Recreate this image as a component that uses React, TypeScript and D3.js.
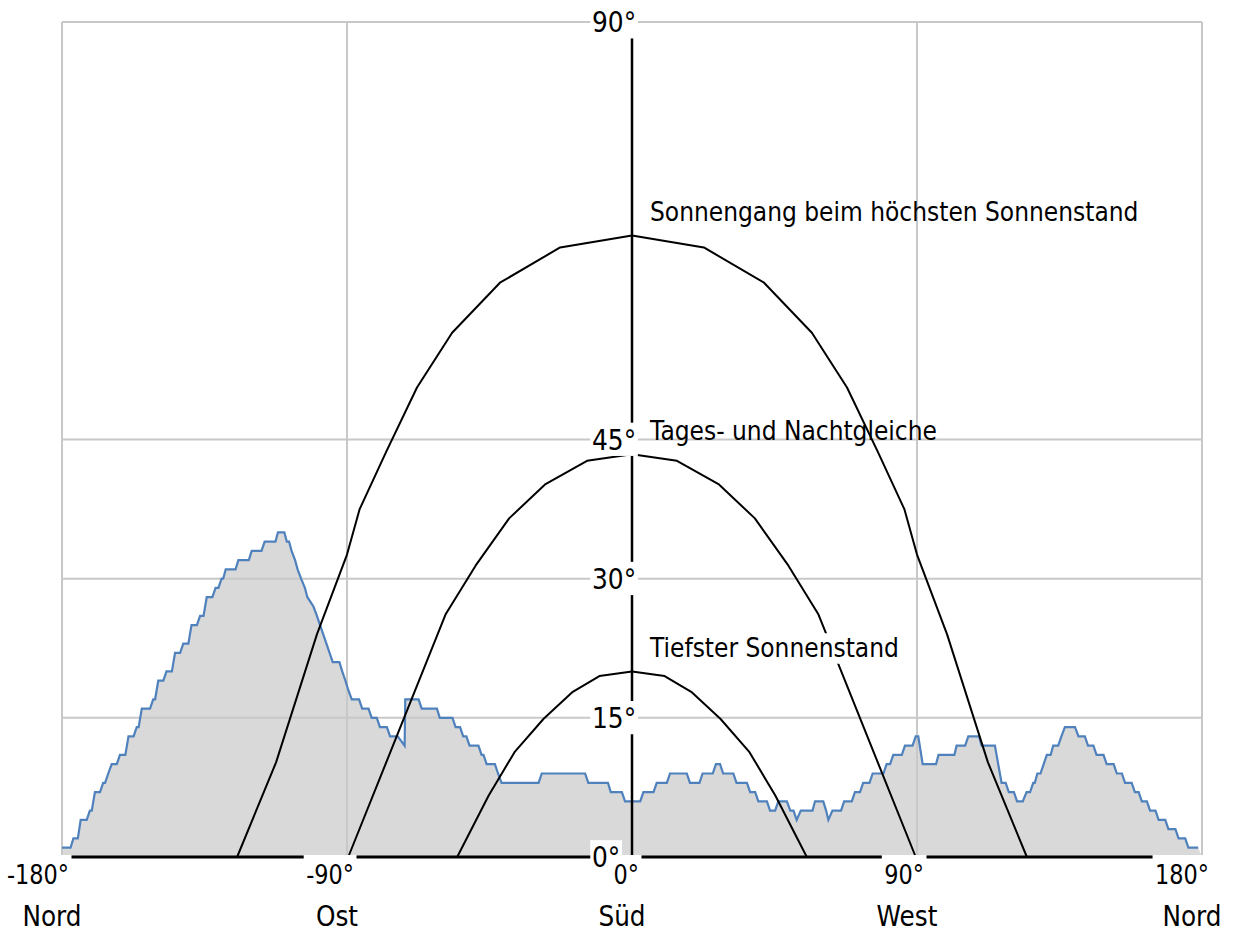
import { useEffect, useRef } from "react";
import * as d3 from "d3";

type Pt = [number, number];

// Horizont-Profil: [Azimut °, Höhe °]
const horizon: Pt[] = [
  [-180, 1], [-177.3, 1], [-176.4, 2], [-175, 2], [-174.1, 4], [-172.2, 4],
  [-171.2, 5], [-170.6, 5], [-169.6, 7], [-168, 7], [-167, 8], [-166.4, 8],
  [-165.4, 9], [-164.3, 10], [-162.7, 10], [-161.7, 11], [-160, 11],
  [-159, 13], [-157.4, 13], [-156.4, 14], [-155.8, 14], [-154.8, 16], [-152.2, 16],
  [-151.2, 17], [-150.6, 17], [-149.6, 19], [-148, 19], [-147, 20], [-145.3, 20],
  [-144.3, 22], [-142.7, 22], [-141.7, 23], [-140.1, 23], [-139.1, 25], [-137.4, 25],
  [-136.4, 26], [-135.3, 26], [-134.3, 28], [-132.5, 28], [-131.5, 29], [-130.6, 29],
  [-129.6, 30], [-129.1, 30], [-128.3, 31], [-125.2, 31], [-124.3, 32], [-121, 32],
  [-120.1, 33], [-117, 33], [-116, 34], [-112.6, 34], [-111.8, 35], [-109.8, 35],
  [-109, 34], [-108.3, 34], [-107.5, 33], [-106.4, 32], [-105.6, 31], [-104.5, 30],
  [-103.3, 29], [-102.5, 28], [-100.6, 27], [-99.5, 26], [-98.5, 25], [-97.5, 24],
  [-96.5, 23], [-95.5, 22], [-94.5, 21], [-92.4, 21], [-91.5, 20], [-90.5, 19],
  [-89.6, 18], [-88.5, 17], [-86.2, 17], [-85.2, 16], [-83.2, 16], [-82.2, 15],
  [-80.6, 15], [-79.6, 14], [-77.4, 14], [-76.4, 13], [-74, 13], [-71.8, 12],
  [-71.6, 17], [-67.4, 17], [-66.4, 16], [-61.6, 16], [-60.7, 15], [-56.7, 15],
  [-55.7, 14], [-54.3, 14], [-53.3, 13], [-52.3, 13], [-51.3, 12], [-48.5, 12],
  [-47.5, 11], [-46.9, 11], [-45.9, 10], [-43.3, 10], [-42.3, 9], [-41.2, 8],
  [-29.5, 8], [-28.5, 9], [-14.8, 9], [-13.8, 8], [-7.6, 8], [-6.7, 7],
  [-3.2, 7], [-2.2, 6], [2.6, 6], [3.6, 7], [6.8, 7], [7.8, 8], [11, 8],
  [12, 9], [17.3, 9], [18.3, 8], [21.3, 8], [22.3, 9], [25.5, 9], [26.5, 10],
  [27.8, 10], [28.8, 9], [32, 9], [33, 8], [36.3, 8], [37.3, 7], [38.9, 7],
  [39.9, 6], [42.6, 6], [43.6, 5], [45.2, 5], [46.2, 6], [48.9, 6], [50, 5],
  [51, 5], [52, 4], [53.3, 5], [57, 5], [57.8, 6], [60.4, 6], [61.3, 5],
  [62, 4], [63.3, 5], [66, 5], [67, 6], [69.4, 6], [70.4, 7], [72, 7],
  [73, 8], [75, 8], [76, 9], [79.4, 9], [80.4, 10], [81.5, 10], [82.5, 11],
  [85.2, 11], [86.2, 12], [88.6, 12], [89.6, 13], [90.4, 13], [91.8, 10],
  [96, 10], [96.8, 11], [101.8, 11], [102.5, 12], [105.2, 12], [106.2, 13],
  [109.6, 13], [110.4, 12], [114.6, 12], [116.7, 8], [118, 8], [119, 7],
  [120.6, 7], [121.6, 6], [123.4, 6], [124.6, 7], [125.7, 7], [126.7, 8],
  [127.2, 8], [128, 9], [129, 9], [130, 10], [131, 11], [132.2, 11], [133, 12],
  [134.6, 12], [135.6, 13], [136.7, 14], [139.9, 14], [141, 13], [143, 13],
  [144, 12], [145.7, 12], [146.7, 11], [148.9, 11], [149.9, 10], [152.1, 10],
  [153.1, 9], [154.7, 9], [155.7, 8], [157.8, 8], [158.8, 7], [160, 7],
  [161, 6], [162.6, 6], [163.6, 5], [165.3, 5], [166.3, 4], [168.4, 4],
  [169.4, 3], [171.6, 3], [172.6, 2], [174.7, 2], [175.7, 1], [178.8, 1],
];

// Sonnenbahnen: [Azimut °, Höhe °]
const summerPath: Pt[] = [
  [-124.7, 0], [-112.4, 10.2], [-99.5, 24.0], [-90, 32.6], [-86, 37.5],
  [-77.6, 43.7], [-67.9, 50.6], [-56.8, 56.5], [-41.7, 61.9], [-22.7, 65.7],
  [0, 67.0], [22.7, 65.7], [41.7, 61.9], [56.8, 56.5], [67.9, 50.6],
  [77.6, 43.7], [86, 37.5], [90, 32.6], [99.5, 24.0], [112.4, 10.2], [124.7, 0],
];
const equinoxPath: Pt[] = [
  [-89.6, 0], [-58.8, 26.2], [-49.4, 31.4], [-38.8, 36.5], [-27.3, 40.2],
  [-14.2, 42.7], [0, 43.4], [14.2, 42.7], [27.3, 40.2], [38.8, 36.5],
  [49.4, 31.4], [58.8, 26.2], [89.6, 0],
];
const winterPath: Pt[] = [
  [-55.2, 0], [-45.3, 6.6], [-37.1, 11.3], [-27.9, 14.9], [-18.7, 17.8],
  [-10.3, 19.5], [0, 20.0], [10.3, 19.5], [18.7, 17.8], [27.9, 14.9],
  [37.1, 11.3], [45.3, 6.6], [55.2, 0],
];

const pathLabels = [
  "Sonnengang beim höchsten Sonnenstand",
  "Tages- und Nachtgleiche",
  "Tiefster Sonnenstand",
];
const pathPeaks = [67.0, 43.4, 20.0];

const xTicks = [-180, -90, 0, 90, 180];
const xTickLabels = ["-180°", "-90°", "0°", "90°", "180°"];
const directionLabels = ["Nord", "Ost", "Süd", "West", "Nord"];
const yTicks = [0, 15, 30, 45, 90];

const W = 1234;
const H = 932;
const FONT = "'DejaVu Sans', Verdana, sans-serif";

type G = d3.Selection<SVGGElement, unknown, null, undefined>;

export default function App() {
  const svgRef = useRef<SVGSVGElement>(null);

  useEffect(() => {
    if (!svgRef.current) return;
    const svg = d3.select(svgRef.current);
    svg.selectAll("*").remove();

    const x = d3.scaleLinear().domain([-180, 180]).range([62, 1202]);
    const y = d3.scaleLinear().domain([0, 90]).range([857, 22]);

    // Horizont-Fläche
    const area = d3
      .area<Pt>()
      .x((d) => x(d[0]))
      .y0(y(0))
      .y1((d) => y(d[1]));
    svg
      .append("path")
      .datum([...horizon, [180, 0] as Pt])
      .attr("d", area)
      .attr("fill", "#d9d9d9");

    // Gitter
    const grid = svg.append("g").attr("stroke", "#c8c8c8").attr("stroke-width", 2);
    yTicks.forEach((t) => {
      grid.append("line").attr("x1", x(-180)).attr("x2", x(180)).attr("y1", y(t)).attr("y2", y(t));
    });
    xTicks.forEach((t) => {
      grid.append("line").attr("x1", x(t)).attr("x2", x(t)).attr("y1", y(90)).attr("y2", y(0));
    });

    const line = d3
      .line<Pt>()
      .x((d) => x(d[0]))
      .y((d) => y(d[1]));

    svg
      .append("path")
      .datum(horizon)
      .attr("d", line)
      .attr("fill", "none")
      .attr("stroke", "#4f81bd")
      .attr("stroke-width", 2.2);

    [summerPath, equinoxPath, winterPath].forEach((p) => {
      svg
        .append("path")
        .datum(p)
        .attr("d", line)
        .attr("fill", "none")
        .attr("stroke", "#000")
        .attr("stroke-width", 2)
        .attr("stroke-linejoin", "round");
    });

    // Achsen
    svg.append("line")
      .attr("x1", x(-180)).attr("x2", x(180))
      .attr("y1", y(0)).attr("y2", y(0))
      .attr("stroke", "#000").attr("stroke-width", 3);
    svg.append("line")
      .attr("x1", x(0)).attr("x2", x(0))
      .attr("y1", y(90)).attr("y2", y(0))
      .attr("stroke", "#000").attr("stroke-width", 2.5);

    // Text, schmal gesetzt (Tahoma-ähnlich)
    const label = (
      px: number,
      py: number,
      str: string,
      size: number,
      sx: number,
      anchor = "start"
    ): G => {
      const g = svg.append("g").attr("transform", `translate(${px},${py}) scale(${sx},1)`);
      g.append("text")
        .attr("text-anchor", anchor)
        .attr("font-family", FONT)
        .attr("font-size", size)
        .attr("fill", "#000")
        .text(str);
      return g;
    };
    const boxed = (g: G, padX: number, top?: number) => {
      const b = g.select<SVGTextElement>("text").node()!.getBBox();
      const y0 = top ?? b.y;
      g.insert("rect", "text")
        .attr("x", b.x - padX)
        .attr("y", y0)
        .attr("width", b.width + padX * 2)
        .attr("height", b.y + b.height - y0)
        .attr("fill", "#fff");
    };

    // Y-Beschriftung
    yTicks.forEach((t) => {
      const g = label(592, y(t) + 10, `${t}°`, 29, 0.86);
      boxed(g, 2);
    });

    // X-Beschriftung
    xTicks.forEach((t, i) => {
      const g = label(x(t) + 7, 884, xTickLabels[i], 27, 0.83, "end");
      boxed(g, 3, y(0) - 2 - 884);
      label(x(t) - 10, 926, directionLabels[i], 27.5, 0.9, "middle");
    });

    // Kurvenbeschriftung
    pathLabels.forEach((lbl, i) => {
      const g = label(x(0) + 18, y(pathPeaks[i]) - 14, lbl, 26, 0.9);
      if (i === 2) boxed(g, 2);
    });
  }, []);

  return (
    <div style={{ position: "absolute", left: 0, top: 0, background: "#fff" }}>
      <svg ref={svgRef} width={W} height={H} style={{ display: "block" }}></svg>
    </div>
  );
}
